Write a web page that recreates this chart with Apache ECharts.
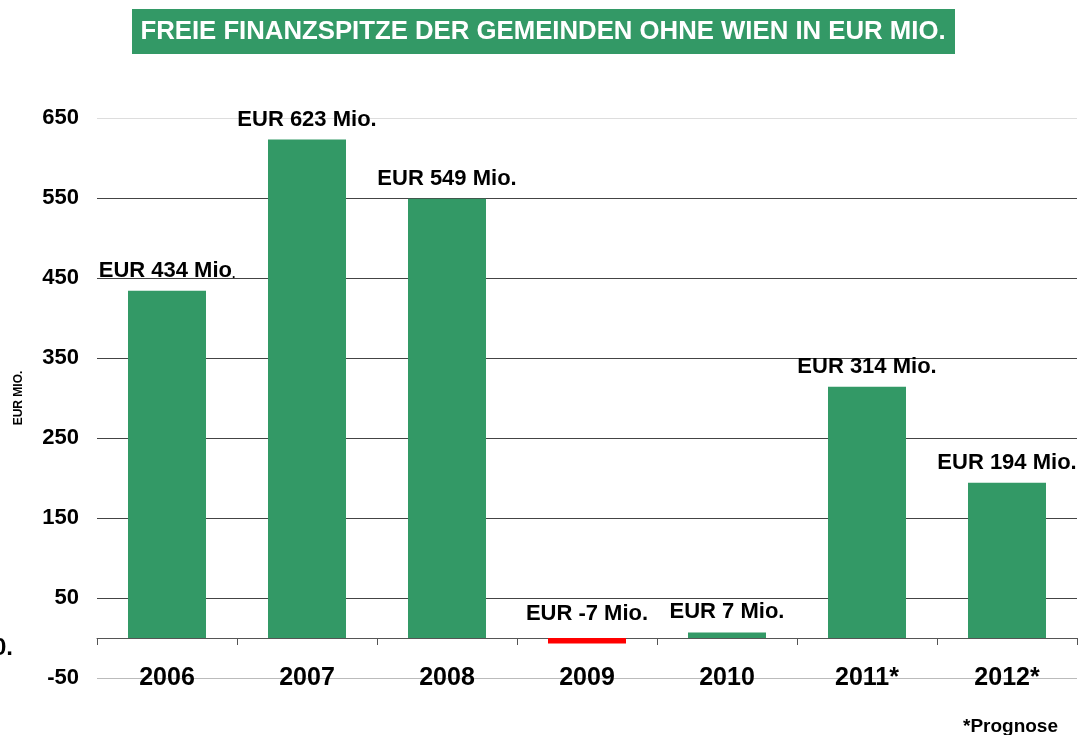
<!DOCTYPE html>
<html>
<head>
<meta charset="utf-8">
<script src="https://cdn.jsdelivr.net/npm/echarts@6/dist/echarts.min.js"></script>
<style>
  html, body { margin: 0; padding: 0; background: #fff; }
  #main { width: 1079px; height: 735px; }
</style>
</head>
<body>
<div id="main"></div>
<script>
const years = ["2006", "2007", "2008", "2009", "2010", "2011*", "2012*"];
const values = [434, 623, 549, -7, 7, 314, 194];
const yTicks = [-50, 50, 150, 250, 350, 450, 550, 650];

const green = "#339966";
const font = "'Liberation Sans', Arial, sans-serif";

let chart = echarts.init(document.getElementById("main"));

const barData = values.map((v, i) => ({
	value: v,
	itemStyle: { color: v < 0 ? "#ff0000" : green },
	label: { distance: v < 0 ? 13 : 9 },
}));

// grid line colours: the top and bottom ones are lighter
const gridColors = yTicks.map((t, i) =>
	i === 0 ? "#bbbbbb" : i === yTicks.length - 1 ? "#dddddd" : "#444444"
);

chart.setOption({
	animation: false,
	textStyle: { fontFamily: font },
	graphic: [
		{
			type: "rect",
			shape: { x: 132, y: 9, width: 823, height: 45 },
			style: { fill: green },
		},
		{
			type: "text",
			x: 543,
			y: 32,
			scaleX: 0.99,
			style: {
				text: "FREIE FINANZSPITZE DER GEMEINDEN OHNE WIEN IN EUR MIO.",
				fill: "#fff",
				font: "bold 26px " + font,
				align: "center",
				verticalAlign: "middle",
			},
		},
		{
			type: "text",
			right: 21,
			top: 717,
			style: { text: "*Prognose", fill: "#000", font: "bold 19px " + font },
		},
		{
			type: "text",
			left: -7,
			top: 636,
			style: { text: "0.", fill: "#000", font: "bold 24px " + font },
		},
	],
	grid: { left: 97, right: 2, top: 118, bottom: 57 },
	xAxis: {
		type: "category",
		data: years,
		axisLine: { onZero: true, lineStyle: { color: "#555", width: 1 } },
		axisTick: { show: true, length: 7, lineStyle: { color: "#555" } },
		axisLabel: {
			margin: -12,
			color: "#000",
			fontWeight: "bold",
			fontSize: 25,
			fontFamily: font,
		},
	},
	yAxis: {
		type: "value",
		min: -50,
		max: 650,
		interval: 100,
		name: "EUR MIO.",
		nameLocation: "middle",
		nameGap: 72,
		nameRotate: 90,
		nameTextStyle: { fontWeight: "bold", fontSize: 12, color: "#000" },
		axisLine: { show: false },
		axisTick: { show: false },
		axisLabel: {
			margin: 18,
			color: "#000",
			fontWeight: "bold",
			fontSize: 22,
			fontFamily: font,
		},
		splitLine: { show: true, lineStyle: { color: gridColors, width: 1 } },
	},
	series: [
		{
			name: "Freie Finanzspitze",
			type: "bar",
			barWidth: 78,
			data: barData,
			label: {
				show: true,
				position: "top",
				color: "#000",
				fontWeight: "bold",
				fontSize: 22,
				fontFamily: font,
				formatter: (p) =>
					p.dataIndex === 0 ? "EUR " + p.value + " Mio{s|.}" : "EUR " + p.value + " Mio.",
				rich: { s: { fontSize: 12, fontWeight: "bold", color: "#000", padding: [8, 0, 0, 0] } },
			},
		},
	],
});
</script>
</body>
</html>
